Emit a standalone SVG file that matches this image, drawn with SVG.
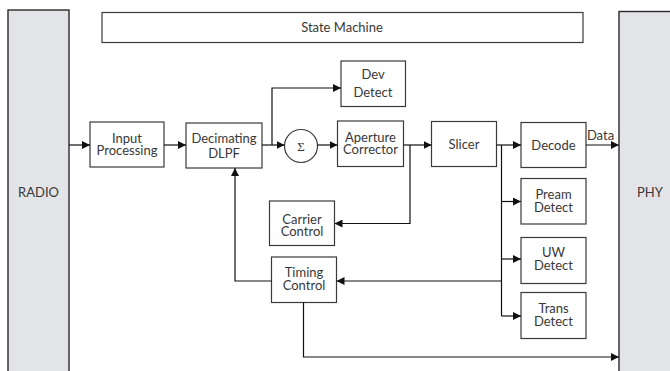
<svg xmlns="http://www.w3.org/2000/svg" width="670" height="371" viewBox="0 0 670 371">
  <style>
    .box { fill: #ffffff; stroke: #3a3a3a; stroke-width: 1.2; }
    .side { fill: #e3e4e8; stroke: #2a2a2a; stroke-width: 1.4; }
    .wire { fill: none; stroke: #111111; stroke-width: 1.2; }
    text { font-family: "Lato", "Open Sans", "Liberation Sans", sans-serif; font-size: 13px; fill: #383838; text-anchor: middle; }
  </style>
  <defs>
    <marker id="arr" viewBox="0 0 10 10" refX="10" refY="5" markerWidth="8" markerHeight="8" markerUnits="userSpaceOnUse" orient="auto">
      <path d="M0,0 L10,5 L0,10 Z" fill="#111111"/>
    </marker>
  </defs>
  <rect width="670" height="371" fill="#ffffff"/>

  <g id="radio">
    <rect class="side" x="8" y="10" width="61" height="370"/>
    <text x="38.5" y="197">RADIO</text>
  </g>
  <g id="phy">
    <rect class="side" x="619" y="11.5" width="60" height="370"/>
    <text x="650" y="197">PHY</text>
  </g>
  <g id="state-machine">
    <rect class="box" x="102" y="12.5" width="481" height="30"/>
    <text x="342" y="32">State Machine</text>
  </g>
  <g id="input-processing">
    <rect class="box" x="90" y="122" width="74" height="45"/>
    <text x="127" y="142.5">Input</text>
    <text x="127" y="155">Processing</text>
  </g>
  <g id="decimating-dlpf">
    <rect class="box" x="186" y="123" width="76" height="45"/>
    <text x="224" y="142.5">Decimating</text>
    <text x="224" y="158">DLPF</text>
  </g>
  <g id="summer">
    <circle class="box" cx="301" cy="146" r="16.5"/>
    <text x="301" y="150.5" style="font-family: 'Liberation Serif', serif; font-size: 13px;">Σ</text>
  </g>
  <g id="dev-detect">
    <rect class="box" x="341" y="61" width="64.5" height="45.5"/>
    <text x="373" y="79">Dev</text>
    <text x="373" y="96.5">Detect</text>
  </g>
  <g id="aperture-corrector">
    <rect class="box" x="337.5" y="121" width="66" height="45.5"/>
    <text x="370.5" y="141.5">Aperture</text>
    <text x="370.5" y="154">Corrector</text>
  </g>
  <g id="slicer">
    <rect class="box" x="431.5" y="121.5" width="65" height="45"/>
    <text x="464" y="149">Slicer</text>
  </g>
  <g id="decode">
    <rect class="box" x="521" y="122.5" width="65" height="45"/>
    <text x="553.5" y="150">Decode</text>
  </g>
  <g id="carrier-control">
    <rect class="box" x="269.5" y="201" width="65" height="44.5"/>
    <text x="302" y="223.5">Carrier</text>
    <text x="302" y="236">Control</text>
  </g>
  <g id="timing-control">
    <rect class="box" x="271.5" y="257" width="65" height="45.5"/>
    <text x="304" y="276.5">Timing</text>
    <text x="304" y="289.5">Control</text>
  </g>
  <g id="pream-detect">
    <rect class="box" x="521" y="178.5" width="65" height="45.5"/>
    <text x="553.5" y="199">Pream</text>
    <text x="553.5" y="211.5">Detect</text>
  </g>
  <g id="uw-detect">
    <rect class="box" x="521" y="237.5" width="65" height="46"/>
    <text x="553.5" y="257">UW</text>
    <text x="553.5" y="270">Detect</text>
  </g>
  <g id="trans-detect">
    <rect class="box" x="521" y="292.5" width="65" height="46"/>
    <text x="553.5" y="313">Trans</text>
    <text x="553.5" y="326">Detect</text>
  </g>

  <g id="connectors">
    <path class="wire" d="M69,145 H90" marker-end="url(#arr)"/>
    <path class="wire" d="M164,145 H186" marker-end="url(#arr)"/>
    <path class="wire" d="M262,145 H284.5" marker-end="url(#arr)"/>
    <path class="wire" d="M272,145 V88 H341" marker-end="url(#arr)"/>
    <path class="wire" d="M317.5,145 H337.5" marker-end="url(#arr)"/>
    <path class="wire" d="M403.5,145 H431.5" marker-end="url(#arr)"/>
    <path class="wire" d="M410,145 V223.5 H334.5" marker-end="url(#arr)"/>
    <path class="wire" d="M496.5,145 H521" marker-end="url(#arr)"/>
    <path class="wire" d="M586,145 H619" marker-end="url(#arr)"/>
    <text x="600.5" y="139.5" font-size="12.5">Data</text>
    <path class="wire" d="M501.5,145 V316"/>
    <path class="wire" d="M501.5,201.5 H521" marker-end="url(#arr)"/>
    <path class="wire" d="M501.5,259 H521" marker-end="url(#arr)"/>
    <path class="wire" d="M501.5,316 H521" marker-end="url(#arr)"/>
    <path class="wire" d="M501.5,281 H336.5" marker-end="url(#arr)"/>
    <path class="wire" d="M271.5,281 H235 V168" marker-end="url(#arr)"/>
    <path class="wire" d="M303.5,302.5 V357 H619" marker-end="url(#arr)"/>
  </g>
</svg>
